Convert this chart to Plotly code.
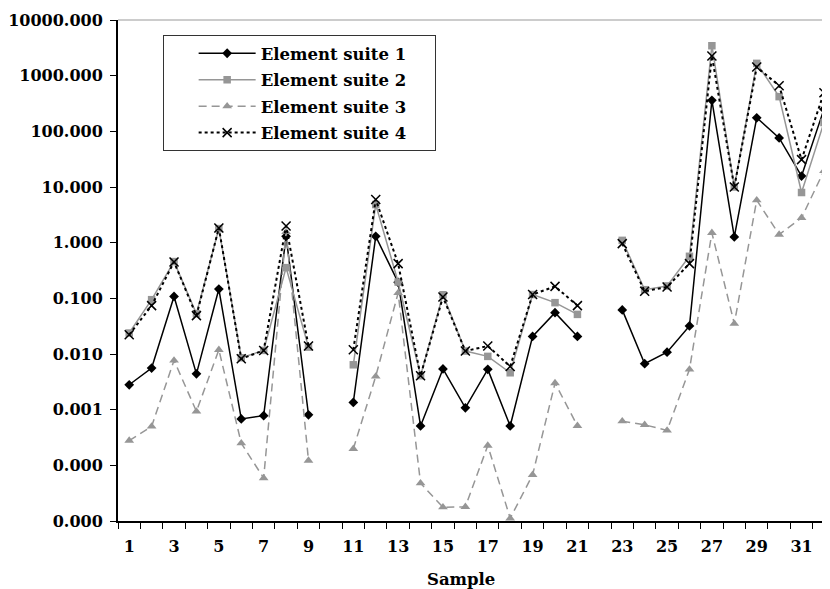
import plotly.graph_objects as go

samples = list(range(1, 33))

suite1 = [0.0028, 0.0056, 0.108, 0.0044, 0.147, 0.00068, 0.00078, 1.3, 0.00081, None,
          0.00135, 1.30, 0.194, 0.00051, 0.0054, 0.00108, 0.0053, 0.00051, 0.0207, 0.0553,
          0.0207, None, 0.062, 0.0067, 0.0108, 0.032, 360, 1.27, 175, 76, 15.7, 250]
suite2 = [0.0238, 0.0946, 0.457, 0.053, 1.79, 0.00857, 0.0116, 0.356, 0.0133, None,
          0.0064, 4.84, 0.196, 0.00407, 0.116, 0.0113, 0.00906, 0.0046, 0.117, 0.0836,
          0.0515, None, 1.1, 0.143, 0.167, 0.569, 3450, 10, 1664, 420, 7.96, 144]
suite3 = [0.000279, 0.000499, 0.00767, 0.00093, 0.0119, 0.00025, 5.9e-5, 1.56, 0.000122, None,
          0.000198, 0.00395, 0.125, 4.77e-5, 1.77e-5, 1.8e-5, 0.000227, 1.12e-5, 6.75e-5, 0.003,
          0.000513, None, 0.00062, 0.000535, 0.000423, 0.00528, 1.5, 0.035, 5.79, 1.4, 2.79, 19.5]
suite4 = [0.0222, 0.074, 0.45, 0.0489, 1.84, 0.0082, 0.0116, 2.0, 0.0139, None,
          0.0119, 5.96, 0.42, 0.00407, 0.106, 0.0113, 0.0139, 0.00598, 0.117, 0.164,
          0.074, None, 0.96, 0.134, 0.16, 0.42, 2260, 10, 1430, 660, 31, 495]

names = ["Element suite 1", "Element suite 2", "Element suite 3", "Element suite 4"]

y_tickvals = [1e-5, 1e-4, 1e-3, 1e-2, 1e-1, 1, 10, 100, 1000, 10000]
y_ticktext = ["0.000", "0.000", "0.001", "0.010", "0.100", "1.000", "10.000",
              "100.000", "1000.000", "10000.000"]
x_tickvals = list(range(1, 33, 2))
x_ticktext = [str(v) for v in x_tickvals]

GRAY = "#969696"
FONT = "DejaVu Serif"
PAD = "\u00a0" * 4

fig = go.Figure()
styles = [
    dict(line=dict(color="black", width=1.5), marker=dict(symbol="diamond", size=7.5, color="black")),
    dict(line=dict(color=GRAY, width=1.5), marker=dict(symbol="square", size=7.5, color=GRAY)),
    dict(line=dict(color=GRAY, width=1.5, dash="8px,5px"), marker=dict(symbol="triangle-up", size=8.5, color=GRAY)),
    dict(line=dict(color="black", width=2, dash="dot"),
         marker=dict(symbol="x-thin", size=9, color="black", line=dict(color="black", width=1.5))),
]
for i, (vals, st) in enumerate(zip([suite1, suite2, suite3, suite4], styles)):
    fig.add_trace(go.Scatter(x=samples, y=vals, name=names[i] + PAD, mode="lines+markers",
                             connectgaps=False, legendgroup=f"g{i}", **st))

fig.update_layout(
    width=822, height=581,
    margin=dict(l=104, r=0, t=12, b=68),
    plot_bgcolor="white", paper_bgcolor="white",
    font=dict(family=FONT, color="black", size=16, weight="bold"),
    showlegend=True,
    legend=dict(x=0.0627, y=0.97, xanchor="left", yanchor="top",
                bgcolor="white", bordercolor="#333333", borderwidth=1,
                font=dict(family=FONT, size=16.5, weight="bold", color="black"),
                itemwidth=57, tracegroupgap=2, indentation=30),
    xaxis=dict(range=[0.5, 32.27], tickvals=x_tickvals, ticktext=x_ticktext, ticks="",
               showgrid=False, zeroline=False, showline=True, linecolor="black", linewidth=2,
               ticklabelstandoff=10,
               tickfont=dict(family=FONT, size=16, weight="bold"),
               minor=dict(tick0=0.5, dtick=1, ticks="outside", ticklen=6, tickcolor="black",
                          tickwidth=1, showgrid=False)),
    yaxis=dict(type="log", range=[-5, 4], tickvals=y_tickvals, ticktext=y_ticktext,
               ticks="outside", ticklen=6, tickcolor="black", tickwidth=1,
               showgrid=False, zeroline=False, showline=True, linecolor="black", linewidth=2,
               ticklabelstandoff=4,
               tickfont=dict(family=FONT, size=16, weight="bold")),
    shapes=[dict(type="line", xref="paper", yref="paper", x0=0, x1=1, y0=1, y1=1,
                 line=dict(color="#999999", width=1))],
    annotations=[dict(text="Sample", xref="paper", yref="paper", x=0.4819, y=-0.1158,
                      xanchor="center", yanchor="middle", showarrow=False,
                      font=dict(family=FONT, size=16.5, weight="bold", color="black"))],
)

fig.write_html("out.html")
